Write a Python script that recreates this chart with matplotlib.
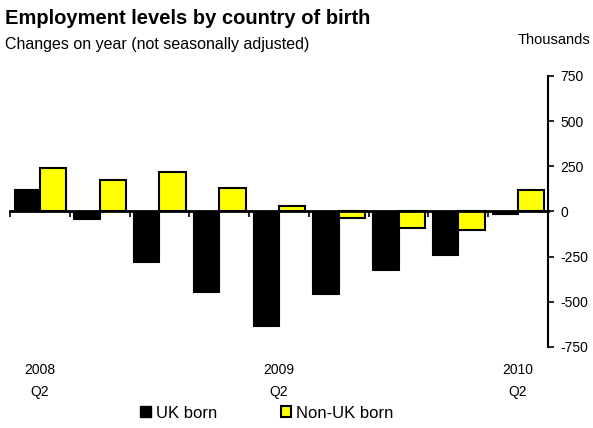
import matplotlib
matplotlib.use("Agg")
import matplotlib.pyplot as plt
import numpy as np
from matplotlib.patches import Patch

plt.rcParams['font.family'] = ['Liberation Sans', 'DejaVu Sans']

quarters = ["2008 Q2", "2008 Q3", "2008 Q4", "2009 Q1", "2009 Q2",
            "2009 Q3", "2009 Q4", "2010 Q1", "2010 Q2"]
uk_born = [123, -40, -281, -446, -634, -459, -325, -239, -14]
non_uk_born = [242, 175, 220, 132, 33, -37, -92, -101, 120]
label_idx = [0, 4, 8]
tick_labels = ["2008\nQ2", "2009\nQ2", "2010\nQ2"]
y_ticks = [-750, -500, -250, 0, 250, 500, 750]

fig = plt.figure(figsize=(5.93, 4.28), dpi=100)
ax = fig.add_axes([10/593, 1-347/428, 538/593, 271/428])

x = np.arange(len(quarters))
w = 0.44
ax.bar(x - w/2, uk_born, width=w, color='black', edgecolor='black', linewidth=0.8, zorder=2)
ax.bar(x + w/2, non_uk_born, width=w, color='#FFFF00', edgecolor='black', linewidth=1.5, zorder=2)

ax.set_xlim(-0.5, len(quarters) - 0.5)
ax.set_ylim(-750, 750)

for s in ['left', 'top']:
    ax.spines[s].set_visible(False)
ax.spines['right'].set_linewidth(1.5)
ax.spines['bottom'].set_position(('data', 0))
ax.spines['bottom'].set_linewidth(2)
ax.spines['bottom'].set_zorder(3)

ax.yaxis.tick_right()
ax.set_yticks(y_ticks)
ax.set_yticklabels([str(v) for v in y_ticks])
ax.tick_params(axis='y', direction='out', length=4, width=1.2, labelsize=10, pad=5)

ax.set_xticks(np.arange(len(quarters)) - 0.5)
ax.set_xticklabels([])
ax.tick_params(axis='x', which='major', direction='out', length=4, width=1.2)
ax.set_xticks(label_idx, minor=True)
ax.set_xticklabels(tick_labels, minor=True, fontsize=10, linespacing=1.75)
ax.tick_params(axis='x', which='minor', length=0, pad=109)

fig.text(5/593, 1-18/428, "Employment levels by country of birth", fontsize=14.5,
         fontweight='bold', va='center', ha='left')
fig.text(5/593, 1-45/428, "Changes on year (not seasonally adjusted)", fontsize=11.5,
         va='center', ha='left')
fig.text(590/593, 1-40/428, "Thousands", fontsize=10.5, va='center', ha='right')

handles = [Patch(facecolor='black', edgecolor='black'),
           Patch(facecolor='#FFFF00', edgecolor='black', linewidth=1.5)]
fig.legend(handles, ["UK born", "Non-UK born"], loc='center', ncol=2,
           bbox_to_anchor=(267/593, 1-413/428), frameon=False, fontsize=12,
           handlelength=0.65, handleheight=0.65, handletextpad=0.3, columnspacing=3.8)

fig.savefig("out.png", dpi=100)
